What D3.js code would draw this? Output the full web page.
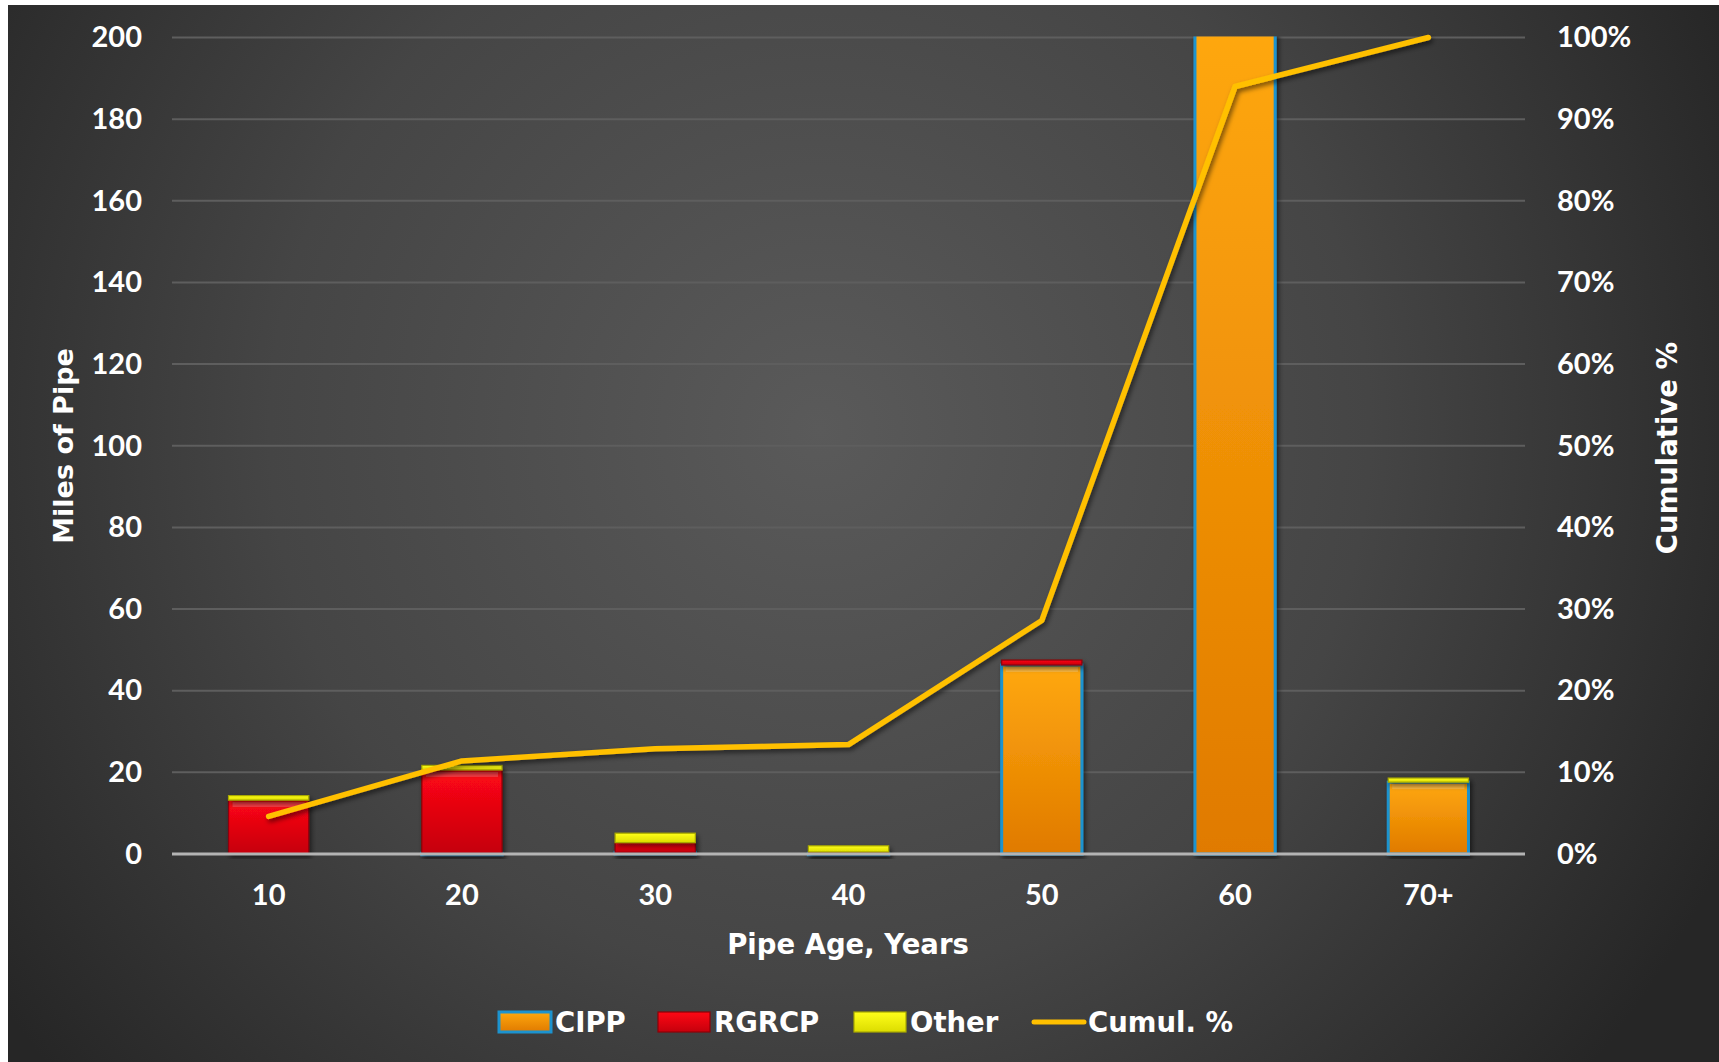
<!DOCTYPE html>
<html>
<head>
<meta charset="utf-8">
<script src="https://cdn.jsdelivr.net/npm/d3@7"></script>
<style>
  html, body { margin: 0; padding: 0; background: #fff; }
  svg { display: block; }
  text { font-family: Lato, "DejaVu Sans", sans-serif; font-weight: bold; fill: #fff; }
  text.wide { font-family: "DejaVu Sans", sans-serif; }
</style>
</head>
<body>
<div id="chart"></div>
<script>
// Data
const categories = ["10", "20", "30", "40", "50", "60", "70+"];
const cipp   = [0,    0.2,  0.4, 0.2, 46.3, 205, 17.6];
const rgrcp  = [13.2, 20.4, 2.4, 0.3, 1.2,  0,   0];
const other  = [1.1,  1.1,  2.3, 1.5, 0,    0,   1.0];
const cumul  = [4.6, 11.4, 12.9, 13.4, 28.6, 94.0, 100];
const leftTicks = [0, 20, 40, 60, 80, 100, 120, 140, 160, 180, 200];
const rightTicks = [0, 10, 20, 30, 40, 50, 60, 70, 80, 90, 100];
const seriesNames = ["CIPP", "RGRCP", "Other"];

// Chart dimensions
const width = 1719;
const height = 1062;
const marginTop = 37.5;
const marginBottom = 208;   // baseline at y = 854
const marginLeft = 172;
const marginRight = 194;    // plot right edge at 1525

const x = d3.scaleBand()
    .domain(categories)
    .range([marginLeft, width - marginRight])
    .paddingInner(0.585)
    .paddingOuter(0.2925);

const y = d3.scaleLinear()
    .domain([0, 200])
    .range([height - marginBottom, marginTop]);

const y2 = d3.scaleLinear()
    .domain([0, 100])
    .range([height - marginBottom, marginTop]);

const svg = d3.select("#chart").append("svg")
    .attr("width", width)
    .attr("height", height);

const defs = svg.append("defs");

// background glow
const bg = defs.append("radialGradient")
    .attr("id", "bg")
    .attr("gradientUnits", "userSpaceOnUse")
    .attr("cx", 820).attr("cy", 430).attr("r", 1000);
bg.append("stop").attr("offset", "0%").attr("stop-color", "#5a5a5a");
bg.append("stop").attr("offset", "55%").attr("stop-color", "#454545");
bg.append("stop").attr("offset", "100%").attr("stop-color", "#262626");

function vGrad(id, top, bottom) {
  const g = defs.append("linearGradient").attr("id", id)
      .attr("x1", 0).attr("y1", 0).attr("x2", 0).attr("y2", 1);
  g.append("stop").attr("offset", "0%").attr("stop-color", top);
  g.append("stop").attr("offset", "100%").attr("stop-color", bottom);
}
vGrad("gCIPP", "#ffa80d", "#e07a00");
vGrad("gRGRCP", "#ff0814", "#c5000c");
vGrad("gOther", "#ffff1a", "#dcdc00");

const shadow = defs.append("filter").attr("id", "shadow")
    .attr("x", "-10%").attr("y", "-10%").attr("width", "120%").attr("height", "130%");
shadow.append("feDropShadow")
    .attr("dx", 2).attr("dy", 3).attr("stdDeviation", 2.5)
    .attr("flood-color", "#000").attr("flood-opacity", 0.55);

defs.append("clipPath").attr("id", "plotClip")
  .append("rect")
    .attr("x", marginLeft).attr("y", marginTop - 1)
    .attr("width", width - marginLeft - marginRight)
    .attr("height", height - marginTop - marginBottom + 6);

svg.append("rect")
    .attr("x", 8).attr("y", 5)
    .attr("width", width - 8).attr("height", height - 5)
    .attr("fill", "url(#bg)");

// Gridlines
svg.append("g")
  .selectAll("line")
  .data(leftTicks.slice(1))
  .join("line")
    .attr("x1", marginLeft).attr("x2", width - marginRight)
    .attr("y1", d => y(d)).attr("y2", d => y(d))
    .attr("stroke", "#5e5e5e")
    .attr("stroke-width", 2);

// Stacked bars
const rows = categories.map((c, i) => ({cat: c, CIPP: cipp[i], RGRCP: rgrcp[i], Other: other[i]}));
const stacked = d3.stack().keys(seriesNames)(rows);
const fills = {CIPP: "url(#gCIPP)", RGRCP: "url(#gRGRCP)", Other: "url(#gOther)"};
const edges = {CIPP: "#1c93cf", RGRCP: "#8e0008", Other: "#a8a800"};

const barsG = svg.append("g").attr("clip-path", "url(#plotClip)");
const layer = barsG.selectAll("g.layer")
  .data(stacked)
  .join("g")
    .attr("class", "layer")
    .attr("filter", "url(#shadow)");

layer.selectAll("rect.bar")
  .data(s => s.map(d => ({key: s.key, d})))
  .join("rect")
    .attr("class", "bar")
    .filter(o => o.d[1] - o.d[0] > 0)
    .attr("x", o => x(o.d.data.cat))
    .attr("width", x.bandwidth())
    .attr("y", o => y(o.d[1]))
    .attr("height", o => Math.max(1.5, y(o.d[0]) - y(o.d[1])))
    .attr("fill", o => fills[o.key])
    .attr("stroke", o => edges[o.key])
    .attr("stroke-width", o => o.key === "CIPP" ? 3 : 1.2);

// bevel highlight on bars tall enough
layer.selectAll("rect.hl")
  .data(s => s.map(d => ({key: s.key, d})).filter(o => y(o.d[0]) - y(o.d[1]) > 14))
  .join("rect")
    .attr("class", "hl")
    .attr("x", o => x(o.d.data.cat) + 4)
    .attr("width", x.bandwidth() - 8)
    .attr("y", o => y(o.d[1]) + 2)
    .attr("height", 5)
    .attr("fill", "#fff")
    .attr("opacity", 0.22);

// Baseline
svg.append("line")
    .attr("x1", marginLeft).attr("x2", width - marginRight)
    .attr("y1", y(0)).attr("y2", y(0))
    .attr("stroke", "#b4b4b4")
    .attr("stroke-width", 3);

// Cumulative line
svg.append("path")
    .datum(cumul)
    .attr("fill", "none")
    .attr("stroke", "#ffc000")
    .attr("stroke-width", 5.5)
    .attr("stroke-linecap", "round")
    .attr("stroke-linejoin", "round")
    .attr("filter", "url(#shadow)")
    .attr("d", d3.line()
        .x((d, i) => x(categories[i]) + x.bandwidth() / 2)
        .y(d => y2(d)));

// Left axis
svg.append("g")
  .attr("transform", `translate(${marginLeft - 30},0)`)
  .call(d3.axisLeft(y).tickValues(leftTicks).tickSize(0).tickPadding(0))
  .call(g => g.select(".domain").remove())
  .call(g => g.selectAll("text")
      .attr("font-size", 29).attr("fill", "#fff")
      .attr("font-family", "Lato, sans-serif").attr("font-weight", "bold"));

// Right axis
svg.append("g")
  .attr("transform", `translate(${width - marginRight + 32},0)`)
  .call(d3.axisRight(y2).tickValues(rightTicks).tickFormat(d => d + "%").tickSize(0).tickPadding(0))
  .call(g => g.select(".domain").remove())
  .call(g => g.selectAll("text")
      .attr("font-size", 29).attr("fill", "#fff")
      .attr("font-family", "Lato, sans-serif").attr("font-weight", "bold"));

// Bottom axis
svg.append("g")
  .attr("transform", `translate(0,${y(0) + 30})`)
  .call(d3.axisBottom(x).tickSize(0).tickPadding(0))
  .call(g => g.select(".domain").remove())
  .call(g => g.selectAll("text")
      .attr("dy", "0.71em")
      .attr("font-size", 29).attr("fill", "#fff")
      .attr("font-family", "Lato, sans-serif").attr("font-weight", "bold"));

// Axis titles
svg.append("text")
    .attr("class", "wide")
    .attr("x", 848).attr("y", 954)
    .attr("text-anchor", "middle")
    .attr("font-size", 27.5)
    .text("Pipe Age, Years");

svg.append("text")
    .attr("class", "wide")
    .attr("transform", "translate(73,446) rotate(-90)")
    .attr("text-anchor", "middle")
    .attr("font-size", 27)
    .text("Miles of Pipe");

svg.append("text")
    .attr("class", "wide")
    .attr("transform", "translate(1677,448) rotate(-90)")
    .attr("text-anchor", "middle")
    .attr("font-size", 27.5)
    .text("Cumulative %");

// Legend
const legendY = 1022;
const legendItems = [
  {name: "CIPP", x: 499, type: "bar"},
  {name: "RGRCP", x: 658, type: "bar"},
  {name: "Other", x: 854, type: "bar"},
  {name: "Cumul. %", x: 1032, type: "line"}
];
const legend = svg.append("g");
legendItems.forEach(it => {
  if (it.type === "bar") {
    legend.append("rect")
        .attr("x", it.x).attr("y", legendY - 10)
        .attr("width", 52).attr("height", 20)
        .attr("fill", fills[it.name])
        .attr("stroke", edges[it.name])
        .attr("stroke-width", it.name === "CIPP" ? 3 : 1.2);
  } else {
    legend.append("line")
        .attr("x1", it.x + 2).attr("x2", it.x + 52)
        .attr("y1", legendY).attr("y2", legendY)
        .attr("stroke", "#ffc000").attr("stroke-width", 5)
        .attr("stroke-linecap", "round");
  }
  legend.append("text")
      .attr("class", "wide")
      .attr("x", it.x + 56).attr("y", legendY)
      .attr("dy", "0.36em")
      .attr("font-size", 27.5)
      .text(it.name);
});
</script>
</body>
</html>
